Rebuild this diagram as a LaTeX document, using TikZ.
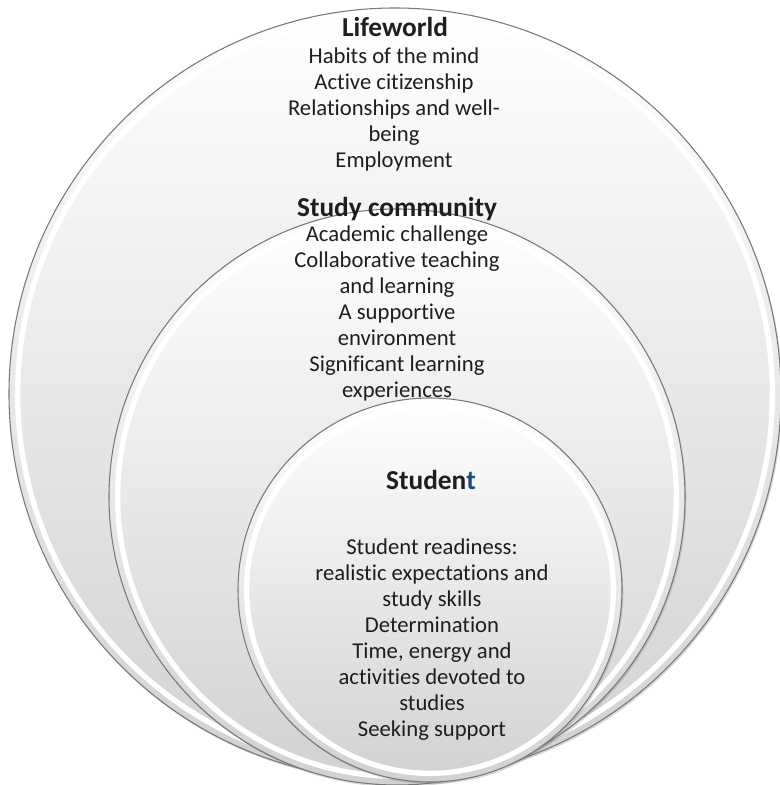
\documentclass[tikz,border=0pt]{standalone}
\usepackage{fontspec}
\setmainfont[Ligatures=NoCommon]{Carlito}
\usetikzlibrary{shadows}
\definecolor{ringline}{RGB}{120,120,120}
\definecolor{txtgray}{RGB}{30,30,30}
\definecolor{tblue}{RGB}{31,73,125}
\begin{document}
\begin{tikzpicture}[x=0.75pt,y=-0.75pt,
    ring/.style={top color=white,bottom color=black!18,draw=ringline,line width=0.8pt,
      drop shadow={opacity=0.3,shadow xshift=1pt,shadow yshift=-1.5pt}},
    rim/.style={draw=white,line width=4pt},
    head/.style={anchor=north,inner sep=0pt,text=txtgray,font=\bfseries\fontsize{20.5}{24}\selectfont},
    items/.style={anchor=north,inner sep=0pt,align=center,text=txtgray,font=\fontsize{17}{19.5}\selectfont}]
    \useasboundingbox (0,0) rectangle (780,785);
    \path[ring] (395,394) circle[radius=289.5pt];
    \draw[rim] (395,394) circle[radius=283pt];
    \path[ring] (397,497) circle[radius=216pt];
    \draw[rim] (397,497) circle[radius=209.5pt];
    \path[ring] (430,590) circle[radius=144pt];
    \draw[rim] (430,590) circle[radius=137.5pt];
    \node[head] (lifeworld) at (395,17) {Lifeworld};
    \node[items] (lifeitems) at (394,47) {Habits of the mind\\Active citizenship\\Relationships and well-\\being\\Employment};
    \node[head] (community) at (397,197) {Study community};
    \node[items] (commitems) at (397,225) {Academic challenge\\Collaborative teaching\\and learning\\A supportive\\environment\\Significant learning\\experiences};
    \node[head] (student) at (431,470) {Studen\textcolor{tblue}{t}};
    \node[items] (studitems) at (432,538) {Student readiness:\\realistic expectations and\\study skills\\Determination\\Time, energy and\\activities devoted to\\studies\\Seeking support};
\end{tikzpicture}
\end{document}
